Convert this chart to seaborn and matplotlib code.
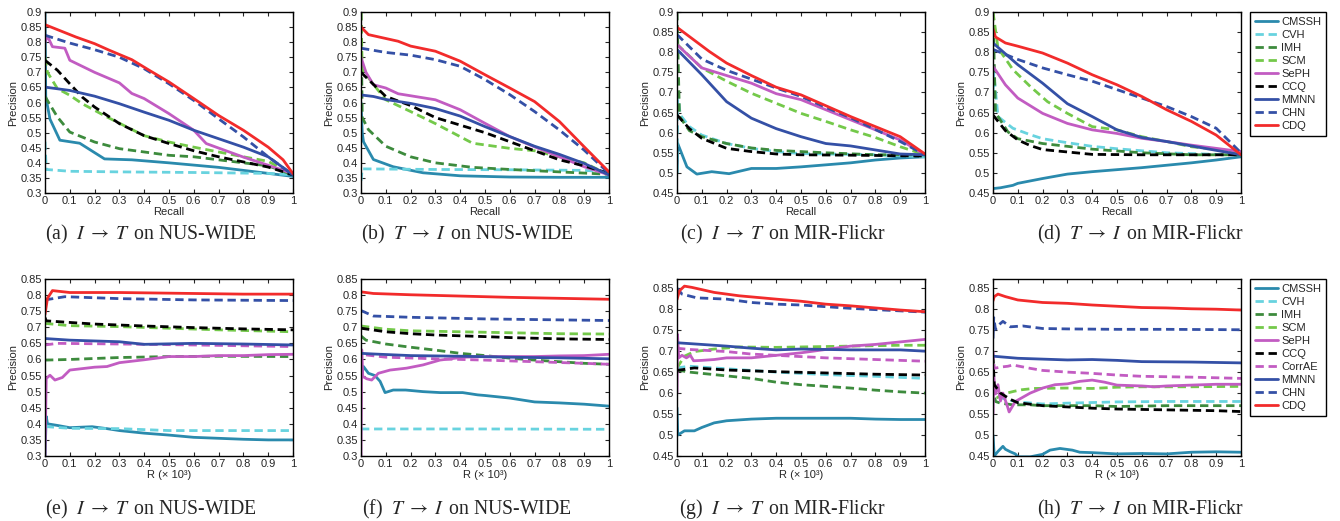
import numpy as np
import matplotlib
matplotlib.use("Agg")
import matplotlib.pyplot as plt
import seaborn as sns
from matplotlib.lines import Line2D
from matplotlib.ticker import MultipleLocator, FuncFormatter

# ---- data: (x, precision) points per method ----
# (a) I->T on NUS-WIDE, precision-recall
a_cmssh = [(0, 0.9), (0.003, 0.62), (0.02, 0.545), (0.06, 0.475), (0.14, 0.465), (0.24, 0.413), (0.35, 0.41), (0.5, 0.40), (0.7, 0.385), (0.9, 0.365), (1, 0.355)]
a_cvh = [(0, 0.47), (0.005, 0.378), (0.1, 0.372), (0.3, 0.37), (0.6, 0.368), (0.9, 0.365), (1, 0.36)]
a_imh = [(0, 0.62), (0.05, 0.552), (0.1, 0.502), (0.2, 0.469), (0.3, 0.447), (0.4, 0.436), (0.5, 0.425), (0.6, 0.42), (0.7, 0.41), (0.8, 0.40), (0.9, 0.39), (1, 0.36)]
a_scm = [(0, 0.75), (0.01, 0.7), (0.05, 0.646), (0.1, 0.624), (0.15, 0.596), (0.25, 0.552), (0.4, 0.49), (0.5, 0.469), (0.6, 0.452), (0.7, 0.436), (0.8, 0.42), (0.9, 0.405), (1, 0.36)]
a_seph = [(0, 0.8), (0.01, 0.82), (0.03, 0.785), (0.08, 0.78), (0.1, 0.74), (0.2, 0.70), (0.3, 0.665), (0.35, 0.63), (0.4, 0.613), (0.5, 0.563), (0.6, 0.508), (0.65, 0.464), (0.7, 0.449), (0.8, 0.419), (0.9, 0.392), (1, 0.364)]
a_ccq = [(0, 0.74), (0.05, 0.707), (0.1, 0.662), (0.15, 0.618), (0.2, 0.585), (0.3, 0.53), (0.4, 0.49), (0.5, 0.464), (0.6, 0.44), (0.7, 0.42), (0.8, 0.403), (0.9, 0.386), (1, 0.36)]
a_mmnn = [(0, 0.651), (0.1, 0.64), (0.2, 0.621), (0.3, 0.596), (0.4, 0.568), (0.5, 0.541), (0.6, 0.508), (0.7, 0.48), (0.8, 0.452), (0.9, 0.42), (1, 0.36)]
a_chn = [(0, 0.823), (0.1, 0.797), (0.2, 0.775), (0.3, 0.75), (0.4, 0.712), (0.5, 0.662), (0.6, 0.607), (0.7, 0.546), (0.8, 0.486), (0.9, 0.42), (1, 0.36)]
a_cdq = [(0, 0.858), (0.125, 0.817), (0.2, 0.795), (0.26, 0.773), (0.35, 0.742), (0.42, 0.707), (0.5, 0.668), (0.6, 0.613), (0.7, 0.557), (0.8, 0.508), (0.9, 0.452), (0.96, 0.41), (1, 0.364)]

# (b) T->I on NUS-WIDE, precision-recall
b_cmssh = [(0, 0.6), (0.005, 0.5), (0.01, 0.47), (0.05, 0.411), (0.13, 0.387), (0.25, 0.367), (0.4, 0.357), (0.6, 0.353), (0.8, 0.352), (1, 0.352)]
b_cvh = [(0, 0.34), (0.005, 0.38), (0.3, 0.378), (0.6, 0.377), (0.9, 0.375), (1, 0.37)]
b_imh = [(0, 0.9), (0.005, 0.55), (0.03, 0.51), (0.1, 0.455), (0.2, 0.42), (0.3, 0.4), (0.45, 0.385), (0.6, 0.378), (0.8, 0.37), (1, 0.362)]
b_scm = [(0, 0.9), (0.005, 0.71), (0.05, 0.66), (0.1, 0.609), (0.2, 0.57), (0.3, 0.53), (0.45, 0.465), (0.6, 0.448), (0.7, 0.44), (0.8, 0.42), (0.9, 0.4), (1, 0.36)]
b_seph = [(0, 0.75), (0.02, 0.7), (0.05, 0.659), (0.1, 0.648), (0.15, 0.629), (0.3, 0.609), (0.4, 0.576), (0.5, 0.531), (0.6, 0.487), (0.7, 0.453), (0.8, 0.42), (0.9, 0.387), (1, 0.36)]
b_ccq = [(0, 0.7), (0.05, 0.66), (0.1, 0.62), (0.2, 0.59), (0.3, 0.55), (0.4, 0.525), (0.5, 0.5), (0.6, 0.47), (0.7, 0.44), (0.8, 0.41), (0.9, 0.39), (1, 0.365)]
b_mmnn = [(0, 0.625), (0.05, 0.62), (0.1, 0.61), (0.2, 0.597), (0.3, 0.58), (0.4, 0.555), (0.5, 0.52), (0.6, 0.487), (0.7, 0.455), (0.8, 0.428), (0.9, 0.398), (1, 0.36)]
b_chn = [(0, 0.78), (0.1, 0.766), (0.2, 0.757), (0.3, 0.742), (0.4, 0.72), (0.5, 0.676), (0.6, 0.626), (0.7, 0.57), (0.8, 0.509), (0.9, 0.442), (1, 0.365)]
b_cdq = [(0, 0.85), (0.03, 0.825), (0.15, 0.803), (0.2, 0.787), (0.3, 0.77), (0.4, 0.737), (0.5, 0.692), (0.6, 0.648), (0.7, 0.603), (0.8, 0.537), (0.9, 0.453), (1, 0.37)]

# (c) I->T on MIR-Flickr, precision-recall
c_cmssh = [(0, 0.5), (0.003, 0.573), (0.04, 0.515), (0.08, 0.497), (0.14, 0.503), (0.21, 0.498), (0.3, 0.511), (0.4, 0.511), (0.5, 0.515), (0.6, 0.52), (0.7, 0.525), (0.8, 0.532), (0.9, 0.537), (1, 0.54)]
c_cvh = [(0, 0.5), (0.003, 0.7), (0.013, 0.644), (0.05, 0.615), (0.1, 0.594), (0.2, 0.573), (0.3, 0.561), (0.4, 0.553), (0.5, 0.548), (0.6, 0.547), (0.8, 0.545), (1, 0.54)]
c_imh = [(0, 0.9), (0.01, 0.64), (0.05, 0.605), (0.1, 0.59), (0.2, 0.573), (0.3, 0.562), (0.4, 0.556), (0.5, 0.553), (0.6, 0.55), (0.8, 0.545), (1, 0.545)]
c_scm = [(0, 0.82), (0.1, 0.761), (0.2, 0.728), (0.3, 0.698), (0.4, 0.673), (0.5, 0.648), (0.6, 0.628), (0.7, 0.607), (0.8, 0.588), (0.9, 0.565), (1, 0.545)]
c_seph = [(0, 0.819), (0.1, 0.761), (0.2, 0.742), (0.3, 0.723), (0.4, 0.697), (0.5, 0.682), (0.6, 0.657), (0.7, 0.632), (0.8, 0.607), (0.9, 0.582), (1, 0.545)]
c_ccq = [(0, 0.644), (0.05, 0.61), (0.1, 0.586), (0.2, 0.561), (0.3, 0.553), (0.4, 0.547), (0.5, 0.545), (0.7, 0.544), (1, 0.542)]
c_mmnn = [(0, 0.807), (0.1, 0.744), (0.2, 0.677), (0.3, 0.636), (0.4, 0.61), (0.5, 0.59), (0.6, 0.573), (0.7, 0.567), (0.8, 0.557), (0.9, 0.547), (1, 0.545)]
c_chn = [(0, 0.844), (0.1, 0.783), (0.2, 0.755), (0.3, 0.733), (0.4, 0.711), (0.5, 0.69), (0.6, 0.663), (0.7, 0.637), (0.8, 0.608), (0.9, 0.578), (1, 0.545)]
c_cdq = [(0, 0.862), (0.13, 0.802), (0.2, 0.773), (0.3, 0.742), (0.4, 0.713), (0.5, 0.694), (0.6, 0.667), (0.7, 0.64), (0.8, 0.615), (0.9, 0.59), (1, 0.547)]

# (d) T->I on MIR-Flickr, precision-recall
d_cmssh = [(0, 0.461), (0.03, 0.463), (0.08, 0.469), (0.1, 0.474), (0.2, 0.486), (0.3, 0.497), (0.4, 0.503), (0.5, 0.508), (0.6, 0.513), (0.7, 0.519), (0.8, 0.525), (0.9, 0.532), (1, 0.54)]
d_cvh = [(0, 0.7), (0.003, 0.75), (0.02, 0.64), (0.08, 0.611), (0.15, 0.595), (0.2, 0.585), (0.3, 0.575), (0.4, 0.566), (0.5, 0.56), (0.6, 0.555), (0.7, 0.55), (0.8, 0.548), (0.9, 0.546), (1, 0.545)]
d_imh = [(0, 0.9), (0.01, 0.65), (0.06, 0.602), (0.1, 0.585), (0.2, 0.573), (0.3, 0.566), (0.4, 0.559), (0.6, 0.55), (0.8, 0.545), (1, 0.545)]
d_scm = [(0, 0.9), (0.02, 0.811), (0.08, 0.757), (0.15, 0.715), (0.22, 0.677), (0.3, 0.648), (0.4, 0.615), (0.5, 0.607), (0.6, 0.59), (0.7, 0.578), (0.8, 0.565), (0.9, 0.559), (1, 0.545)]
d_seph = [(0, 0.765), (0.05, 0.719), (0.1, 0.686), (0.2, 0.648), (0.3, 0.623), (0.4, 0.607), (0.5, 0.598), (0.6, 0.586), (0.7, 0.578), (0.8, 0.569), (0.9, 0.561), (1, 0.553)]
d_ccq = [(0, 0.644), (0.05, 0.605), (0.1, 0.582), (0.15, 0.568), (0.2, 0.558), (0.3, 0.552), (0.4, 0.546), (0.6, 0.545), (1, 0.545)]
d_mmnn = [(0, 0.823), (0.1, 0.769), (0.2, 0.723), (0.3, 0.672), (0.4, 0.64), (0.5, 0.607), (0.6, 0.588), (0.7, 0.578), (0.8, 0.567), (0.9, 0.556), (1, 0.545)]
d_chn = [(0, 0.807), (0.1, 0.782), (0.2, 0.761), (0.3, 0.744), (0.4, 0.728), (0.5, 0.707), (0.6, 0.686), (0.7, 0.665), (0.8, 0.64), (0.9, 0.611), (1, 0.55)]
d_cdq = [(0, 0.858), (0.01, 0.838), (0.05, 0.823), (0.1, 0.815), (0.2, 0.798), (0.3, 0.773), (0.4, 0.744), (0.5, 0.719), (0.6, 0.69), (0.7, 0.657), (0.8, 0.628), (0.9, 0.594), (1, 0.545)]

# (e) I->T on NUS-WIDE, precision@R
e_cmssh = [(0, 0.3), (0.005, 0.423), (0.01, 0.4), (0.05, 0.395), (0.1, 0.388), (0.19, 0.391), (0.25, 0.385), (0.3, 0.379), (0.4, 0.371), (0.5, 0.365), (0.6, 0.358), (0.7, 0.355), (0.8, 0.352), (0.9, 0.35), (1, 0.35)]
e_cvh = [(0.005, 0.395), (0.01, 0.391), (0.1, 0.386), (0.3, 0.385), (0.5, 0.379), (1, 0.379)]
e_imh = [(0, 0.598), (0.1, 0.6), (0.3, 0.606), (0.5, 0.609), (0.7, 0.61), (1, 0.609)]
e_scm = [(0, 0.712), (0.1, 0.705), (0.3, 0.702), (0.5, 0.697), (0.7, 0.692), (0.9, 0.688), (1, 0.686)]
e_seph = [(0, 0.3), (0.005, 0.541), (0.02, 0.551), (0.04, 0.536), (0.07, 0.544), (0.1, 0.567), (0.2, 0.576), (0.25, 0.578), (0.3, 0.59), (0.4, 0.599), (0.5, 0.609), (0.6, 0.609), (0.7, 0.612), (0.8, 0.612), (0.9, 0.615), (1, 0.616)]
e_ccq = [(0, 0.73), (0.005, 0.72), (0.1, 0.715), (0.2, 0.71), (0.4, 0.704), (0.6, 0.699), (0.8, 0.695), (1, 0.692)]
e_corrae = [(0, 0.645), (0.05, 0.65), (0.3, 0.648), (0.6, 0.645), (1, 0.64)]
e_mmnn = [(0, 0.665), (0.1, 0.66), (0.3, 0.655), (0.4, 0.647), (0.6, 0.65), (0.8, 0.648), (1, 0.645)]
e_chn = [(0, 0.785), (0.08, 0.795), (0.3, 0.789), (0.6, 0.785), (1, 0.783)]
e_cdq = [(0, 0.74), (0.01, 0.79), (0.03, 0.814), (0.1, 0.808), (0.3, 0.808), (0.5, 0.806), (0.8, 0.803), (1, 0.803)]

# (f) T->I on NUS-WIDE, precision@R
f_cmssh = [(0, 0.62), (0.003, 0.55), (0.01, 0.578), (0.03, 0.557), (0.056, 0.55), (0.077, 0.532), (0.097, 0.497), (0.13, 0.505), (0.18, 0.505), (0.25, 0.5), (0.32, 0.497), (0.41, 0.497), (0.47, 0.49), (0.5, 0.488), (0.6, 0.48), (0.7, 0.468), (0.8, 0.465), (0.9, 0.461), (1, 0.455)]
f_cvh = [(0, 0.384), (0.5, 0.384), (1, 0.383)]
f_imh = [(0, 0.673), (0.02, 0.66), (0.1, 0.648), (0.2, 0.638), (0.3, 0.629), (0.4, 0.619), (0.5, 0.612), (0.6, 0.604), (0.7, 0.598), (0.8, 0.593), (0.9, 0.588), (1, 0.585)]
f_scm = [(0, 0.704), (0.1, 0.694), (0.2, 0.689), (0.4, 0.686), (0.6, 0.683), (0.8, 0.68), (1, 0.679)]
f_seph = [(0, 0.3), (0.003, 0.63), (0.007, 0.547), (0.023, 0.54), (0.043, 0.536), (0.07, 0.557), (0.117, 0.567), (0.184, 0.573), (0.25, 0.583), (0.318, 0.598), (0.412, 0.607), (0.5, 0.609), (0.6, 0.609), (0.7, 0.609), (0.8, 0.611), (0.9, 0.612), (1, 0.616)]
f_ccq = [(0, 0.697), (0.1, 0.686), (0.2, 0.68), (0.3, 0.676), (0.5, 0.671), (0.6, 0.668), (0.8, 0.664), (1, 0.662)]
f_corrae = [(0.02, 0.614), (0.1, 0.607), (0.3, 0.602), (0.5, 0.598), (0.7, 0.593), (0.9, 0.588), (1, 0.585)]
f_mmnn = [(0, 0.619), (0.05, 0.617), (0.2, 0.612), (0.4, 0.61), (0.6, 0.607), (0.8, 0.605), (1, 0.602)]
f_chn = [(0, 0.752), (0.05, 0.735), (0.2, 0.731), (0.5, 0.726), (0.8, 0.723), (1, 0.721)]
f_cdq = [(0, 0.81), (0.05, 0.805), (0.2, 0.801), (0.4, 0.797), (0.6, 0.793), (0.8, 0.79), (1, 0.787)]

# (g) I->T on MIR-Flickr, precision@R
g_cmssh = [(0, 0.565), (0.003, 0.5), (0.03, 0.51), (0.07, 0.51), (0.1, 0.518), (0.15, 0.529), (0.2, 0.534), (0.3, 0.538), (0.4, 0.54), (0.6, 0.54), (0.7, 0.54), (0.8, 0.538), (0.9, 0.537), (1, 0.537)]
g_cvh = [(0, 0.66), (0.05, 0.664), (0.1, 0.662), (0.3, 0.654), (0.4, 0.65), (0.6, 0.644), (0.8, 0.64), (1, 0.635)]
g_imh = [(0, 0.655), (0.05, 0.65), (0.15, 0.644), (0.3, 0.635), (0.4, 0.626), (0.5, 0.62), (0.6, 0.616), (0.7, 0.612), (0.8, 0.607), (0.9, 0.603), (1, 0.6)]
g_scm = [(0, 0.66), (0.03, 0.688), (0.07, 0.699), (0.15, 0.705), (0.25, 0.71), (0.4, 0.709), (0.5, 0.71), (0.7, 0.712), (0.9, 0.714), (1, 0.714)]
g_seph = [(0, 0.6), (0.002, 0.74), (0.007, 0.684), (0.02, 0.69), (0.038, 0.684), (0.054, 0.69), (0.067, 0.677), (0.1, 0.678), (0.15, 0.68), (0.2, 0.684), (0.3, 0.684), (0.4, 0.69), (0.5, 0.696), (0.6, 0.704), (0.7, 0.712), (0.8, 0.716), (0.9, 0.722), (1, 0.728)]
g_ccq = [(0, 0.654), (0.07, 0.66), (0.2, 0.655), (0.4, 0.651), (0.6, 0.648), (0.8, 0.645), (1, 0.643)]
g_corrae = [(0, 0.707), (0.05, 0.704), (0.2, 0.699), (0.3, 0.693), (0.4, 0.69), (0.6, 0.684), (0.8, 0.68), (1, 0.676)]
g_mmnn = [(0, 0.72), (0.1, 0.716), (0.2, 0.712), (0.3, 0.707), (0.4, 0.703), (0.5, 0.705), (0.7, 0.703), (0.9, 0.703), (1, 0.7)]
g_chn = [(0, 0.85), (0.02, 0.836), (0.08, 0.827), (0.2, 0.824), (0.3, 0.816), (0.4, 0.812), (0.5, 0.81), (0.6, 0.806), (0.7, 0.802), (0.8, 0.799), (0.9, 0.796), (1, 0.793)]
g_cdq = [(0, 0.823), (0.01, 0.844), (0.03, 0.855), (0.06, 0.852), (0.15, 0.84), (0.25, 0.832), (0.4, 0.824), (0.5, 0.819), (0.6, 0.812), (0.7, 0.808), (0.8, 0.803), (0.9, 0.798), (1, 0.794)]

# (h) T->I on MIR-Flickr, precision@R
h_cmssh = [(0, 0.5), (0.005, 0.45), (0.02, 0.461), (0.04, 0.473), (0.05, 0.466), (0.07, 0.46), (0.09, 0.455), (0.1, 0.448), (0.15, 0.448), (0.2, 0.454), (0.23, 0.464), (0.27, 0.468), (0.32, 0.464), (0.35, 0.459), (0.4, 0.458), (0.5, 0.455), (0.6, 0.456), (0.7, 0.455), (0.8, 0.459), (0.9, 0.46), (1, 0.459)]
h_cvh = [(0, 0.65), (0.005, 0.6), (0.03, 0.59), (0.05, 0.585), (0.1, 0.579), (0.2, 0.574), (0.3, 0.576), (0.5, 0.579), (0.7, 0.58), (1, 0.58)]
h_imh = [(0, 0.62), (0.01, 0.58), (0.03, 0.576), (0.08, 0.572), (0.15, 0.572), (0.2, 0.57), (0.4, 0.57), (0.5, 0.568), (0.7, 0.57), (1, 0.57)]
h_scm = [(0.015, 0.588), (0.036, 0.597), (0.056, 0.6), (0.083, 0.604), (0.116, 0.608), (0.163, 0.611), (0.3, 0.612), (0.4, 0.611), (0.5, 0.614), (0.6, 0.615), (0.8, 0.615), (1, 0.616)]
h_seph = [(0, 0.55), (0.003, 0.64), (0.01, 0.598), (0.02, 0.62), (0.03, 0.581), (0.04, 0.6), (0.06, 0.565), (0.065, 0.555), (0.09, 0.58), (0.12, 0.59), (0.15, 0.6), (0.2, 0.612), (0.25, 0.62), (0.3, 0.622), (0.35, 0.628), (0.4, 0.631), (0.45, 0.626), (0.5, 0.619), (0.6, 0.617), (0.65, 0.615), (0.7, 0.617), (0.8, 0.619), (0.9, 0.621), (1, 0.621)]
h_ccq = [(0, 0.69), (0.005, 0.62), (0.03, 0.6), (0.07, 0.585), (0.1, 0.577), (0.2, 0.57), (0.3, 0.567), (0.4, 0.564), (0.5, 0.562), (0.7, 0.56), (0.9, 0.558), (1, 0.556)]
h_corrae = [(0, 0.7), (0.005, 0.659), (0.03, 0.662), (0.06, 0.664), (0.08, 0.667), (0.15, 0.659), (0.2, 0.654), (0.3, 0.65), (0.4, 0.647), (0.5, 0.643), (0.6, 0.64), (0.8, 0.638), (1, 0.635)]
h_mmnn = [(0, 0.688), (0.1, 0.683), (0.2, 0.681), (0.3, 0.679), (0.4, 0.68), (0.5, 0.678), (0.6, 0.675), (0.8, 0.674), (1, 0.672)]
h_chn = [(0, 0.73), (0.003, 0.78), (0.01, 0.752), (0.03, 0.766), (0.04, 0.771), (0.07, 0.758), (0.12, 0.76), (0.2, 0.754), (0.3, 0.753), (0.5, 0.752), (0.7, 0.752), (1, 0.751)]
h_cdq = [(0, 0.82), (0.005, 0.83), (0.02, 0.836), (0.05, 0.83), (0.1, 0.822), (0.2, 0.816), (0.3, 0.814), (0.4, 0.81), (0.5, 0.807), (0.6, 0.804), (0.7, 0.803), (0.8, 0.801), (0.9, 0.8), (1, 0.798)]

captions = [
    r"(a)  $I\;\rightarrow\;T\,$ on NUS-WIDE", r"(b)  $T\;\rightarrow\;I\,$ on NUS-WIDE",
    r"(c)  $I\;\rightarrow\;T\,$ on MIR-Flickr", r"(d)  $T\;\rightarrow\;I\,$ on MIR-Flickr",
    r"(e)  $I\;\rightarrow\;T\,$ on NUS-WIDE", r"(f)  $T\;\rightarrow\;I\,$ on NUS-WIDE",
    r"(g)  $I\;\rightarrow\;T\,$ on MIR-Flickr", r"(h)  $T\;\rightarrow\;I\,$ on MIR-Flickr",
]

# ---- styling ----
colors = {
    "CMSSH": "#2a8aad", "CVH": "#68d3df", "IMH": "#3d8b3d", "SCM": "#74c94a",
    "SePH": "#c25cc2", "CCQ": "#000000", "CorrAE": "#c25cc2", "MMNN": "#3450a6",
    "CHN": "#3450a6", "CDQ": "#f22b2b",
}
dashed = (0, (3.0, 1.7))
styles = {
    "CMSSH": "-", "CVH": dashed, "IMH": dashed, "SCM": dashed, "SePH": "-",
    "CCQ": dashed, "CorrAE": dashed, "MMNN": "-", "CHN": dashed, "CDQ": "-",
}

pr_panels = [
    {"CMSSH": a_cmssh, "CVH": a_cvh, "IMH": a_imh, "SCM": a_scm, "SePH": a_seph, "CCQ": a_ccq, "MMNN": a_mmnn, "CHN": a_chn, "CDQ": a_cdq},
    {"CMSSH": b_cmssh, "CVH": b_cvh, "IMH": b_imh, "SCM": b_scm, "SePH": b_seph, "CCQ": b_ccq, "MMNN": b_mmnn, "CHN": b_chn, "CDQ": b_cdq},
    {"CMSSH": c_cmssh, "CVH": c_cvh, "IMH": c_imh, "SCM": c_scm, "SePH": c_seph, "CCQ": c_ccq, "MMNN": c_mmnn, "CHN": c_chn, "CDQ": c_cdq},
    {"CMSSH": d_cmssh, "CVH": d_cvh, "IMH": d_imh, "SCM": d_scm, "SePH": d_seph, "CCQ": d_ccq, "MMNN": d_mmnn, "CHN": d_chn, "CDQ": d_cdq},
]
pr_at_r_panels = [
    {"CMSSH": e_cmssh, "CVH": e_cvh, "IMH": e_imh, "SCM": e_scm, "SePH": e_seph, "CCQ": e_ccq, "CorrAE": e_corrae, "MMNN": e_mmnn, "CHN": e_chn, "CDQ": e_cdq},
    {"CMSSH": f_cmssh, "CVH": f_cvh, "IMH": f_imh, "SCM": f_scm, "SePH": f_seph, "CCQ": f_ccq, "CorrAE": f_corrae, "MMNN": f_mmnn, "CHN": f_chn, "CDQ": f_cdq},
    {"CMSSH": g_cmssh, "CVH": g_cvh, "IMH": g_imh, "SCM": g_scm, "SePH": g_seph, "CCQ": g_ccq, "CorrAE": g_corrae, "MMNN": g_mmnn, "CHN": g_chn, "CDQ": g_cdq},
    {"CMSSH": h_cmssh, "CVH": h_cvh, "IMH": h_imh, "SCM": h_scm, "SePH": h_seph, "CCQ": h_ccq, "CorrAE": h_corrae, "MMNN": h_mmnn, "CHN": h_chn, "CDQ": h_cdq},
]
ylims = [(0.3, 0.9), (0.3, 0.9), (0.45, 0.9), (0.45, 0.9),
         (0.3, 0.85), (0.3, 0.85), (0.45, 0.872), (0.45, 0.872)]

sns.set_style("white")
plt.rcParams["font.family"] = ["Liberation Sans", "DejaVu Sans"]
plt.rcParams["mathtext.fontset"] = "stix"

W, H = 1340, 521
fig = plt.figure(figsize=(W / 100, H / 100), dpi=100)

col_left = [45, 361, 677, 993]
col_w = 248
rows = [(12, 181), (279, 177)]      # (top px, height px)
cap_x = [151, 467, 783, 1141]
cap_y = [234, 509]
fmt = FuncFormatter(lambda v, p: f"{v:g}")
LW = 2.0

all_panels = pr_panels + pr_at_r_panels
for i, panel in enumerate(all_panels):
    r, c = divmod(i, 4)
    top, h = rows[r]
    ax = fig.add_axes([col_left[c] / W, 1 - (top + h) / H, col_w / W, h / H])
    for name, pts in panel.items():
        pts = np.array(pts)
        sns.lineplot(x=pts[:, 0], y=pts[:, 1], ax=ax, color=colors[name],
                     linestyle=styles[name], lw=LW, estimator=None, sort=False)
    ax.set_xlim(0, 1)
    ax.set_ylim(*ylims[i])
    ax.xaxis.set_major_locator(MultipleLocator(0.1))
    ax.yaxis.set_major_locator(MultipleLocator(0.05))
    ax.xaxis.set_major_formatter(fmt)
    ax.yaxis.set_major_formatter(fmt)
    ax.tick_params(direction="in", length=3, width=0.8, labelsize=8,
                   bottom=True, left=True, top=True, right=True, pad=2)
    for s in ax.spines.values():
        s.set_color("black")
        s.set_linewidth(1.0)
    ax.set_xlabel("Recall" if r == 0 else "R (× 10³)", fontsize=8, labelpad=1)
    ax.set_ylabel("Precision", fontsize=8, labelpad=2)
    fig.text(cap_x[c] / W, 1 - cap_y[r] / H, captions[i], ha="center", va="center",
             fontsize=14.2, family="Liberation Serif")

# legends at the right of each row
for r, (panel, top) in enumerate(zip([pr_panels[0], pr_at_r_panels[0]], [12, 279])):
    handles = [Line2D([], [], color=colors[n], linestyle=styles[n], lw=LW) for n in panel]
    leg = fig.legend(handles, list(panel), loc="upper left",
                     bbox_to_anchor=(1250 / W, 1 - top / H), borderaxespad=0,
                     frameon=True, fancybox=False, edgecolor="black", framealpha=1,
                     fontsize=8, handlelength=2.1, handletextpad=0.25,
                     labelspacing=0.27, borderpad=0.45)
    leg.get_frame().set_linewidth(1.0)

fig.savefig("out.png", dpi=100)
